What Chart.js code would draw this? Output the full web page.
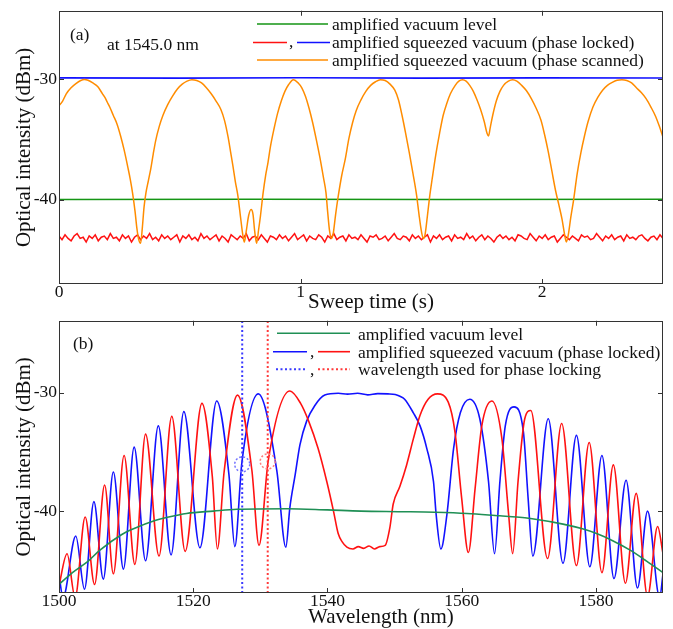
<!DOCTYPE html>
<html><head><meta charset="utf-8">
<script src="https://cdn.jsdelivr.net/npm/chart.js@4.4.1/dist/chart.umd.min.js"></script>
<style>
html,body{margin:0;padding:0;background:#fff;}
#wrap{position:relative;width:673px;height:629px;overflow:hidden;background:#fff;}
canvas{position:absolute;left:0;}
#ca{top:0;}
#cb{top:310px;}
</style></head><body>
<div id="wrap"><canvas id="ca" width="673" height="320"></canvas><canvas id="cb" width="673" height="319"></canvas></div>
<script>
// ---------- axis ticks ----------
const sweepTicks = [0, 0.5, 1, 1.5, 2, 2.5];
const sweepLabels = [0, 1, 2];
const wlTicks = [1500, 1510, 1520, 1530, 1540, 1550, 1560, 1570, 1580, 1590];
const wlLabels = [1500, 1520, 1540, 1560, 1580];
const dbmTicks = [-45, -40, -35, -30, -25];
const dbmLabels = [-40, -30];

// ---------- panel (a): sweep time (s) vs dBm ----------
const vacuumA = [[0, -39.97], [0.8, -39.95], [1.6, -39.97], [2.5, -39.95]];
const lockedHighA = [[0, -29.88], [0.5, -29.9], [1, -29.87], [1.5, -29.9], [2, -29.88], [2.5, -29.89]];
const lockedLowStep = 0.0125;
const lockedLowA = [
 -43.0,-43.3,-42.9,-43.2,-43.4,-43.0,-42.8,-43.2,-43.1,-43.5,
 -43.0,-43.2,-42.9,-43.4,-43.1,-43.0,-43.3,-42.8,-43.2,-43.1,
 -43.4,-42.9,-43.2,-43.0,-43.5,-43.1,-42.9,-43.3,-43.0,-43.2,
 -42.8,-43.3,-43.1,-43.4,-42.9,-43.2,-43.0,-43.3,-43.1,-42.9,
 -43.5,-43.0,-43.2,-42.9,-43.3,-43.1,-43.4,-42.8,-43.2,-43.0,
 -43.3,-43.1,-42.9,-43.4,-43.0,-43.2,-43.5,-42.9,-43.1,-43.3,
 -43.0,-43.2,-42.8,-43.4,-43.1,-43.0,-43.3,-42.9,-43.2,-43.5,
 -43.0,-43.1,-43.3,-42.9,-43.2,-43.0,-43.4,-43.1,-42.8,-43.3,
 -43.1,-42.9,-43.4,-43.0,-43.2,-43.3,-42.9,-43.1,-43.5,-43.0,
 -43.2,-42.8,-43.3,-43.1,-43.0,-43.4,-42.9,-43.2,-43.1,-43.3,
 -42.9,-43.2,-43.5,-43.0,-43.1,-42.9,-43.3,-43.2,-43.0,-43.4,
 -43.1,-42.8,-43.2,-43.3,-43.0,-43.1,-43.4,-42.9,-43.2,-43.0,
 -43.3,-43.1,-42.9,-43.5,-43.0,-43.2,-42.9,-43.3,-43.1,-43.0,
 -43.4,-42.9,-43.2,-43.1,-43.3,-42.8,-43.2,-43.0,-43.4,-43.1,
 -42.9,-43.3,-43.0,-43.2,-43.5,-43.1,-42.9,-43.2,-43.0,-43.3,
 -43.1,-43.4,-42.9,-43.0,-43.2,-43.3,-42.8,-43.1,-43.4,-43.0,
 -43.2,-42.9,-43.3,-43.1,-43.0,-43.5,-43.2,-42.9,-43.1,-43.3,
 -43.0,-43.2,-43.4,-42.9,-43.1,-43.0,-43.3,-43.2,-42.8,-43.1,
 -43.4,-43.0,-43.2,-42.9,-43.3,-43.1,-43.0,-43.4,-42.9,-43.2,
 -43.1,-43.3,-43.0,-42.9,-43.2,-43.4,-43.1,-43.0,-43.3,-42.9,
 -43.2];
const phaseScanned = [
 [0,-32.2],[0.015,-31.8],[0.03,-31.2],[0.05,-30.7],[0.07,-30.35],[0.09,-30.1],[0.105,-30.02],[0.12,-30.08],
 [0.14,-30.3],[0.16,-30.6],[0.18,-31.2],[0.19,-31.5],[0.2,-31.9],[0.21,-32.3],[0.225,-33.0],[0.24,-33.7],
 [0.255,-34.7],[0.27,-35.9],[0.285,-37.3],[0.295,-38.3],[0.305,-39.5],[0.315,-41.0],[0.322,-42.3],[0.33,-43.3],
 [0.338,-43.6],[0.345,-42.3],[0.352,-40.6],[0.36,-39.4],[0.37,-38.4],[0.38,-37.4],[0.39,-36.2],[0.4,-35.1],
 [0.415,-33.9],[0.43,-33.0],[0.45,-32.1],[0.47,-31.4],[0.49,-30.8],[0.51,-30.4],[0.53,-30.15],[0.55,-30.03],
 [0.57,-30.1],[0.59,-30.3],[0.61,-30.7],[0.63,-31.2],[0.65,-31.8],[0.67,-32.5],[0.685,-33.4],[0.7,-34.8],
 [0.71,-36.0],[0.72,-37.2],[0.73,-38.5],[0.74,-39.6],[0.75,-41.2],[0.76,-42.8],[0.767,-43.5],[0.775,-42.6],
 [0.785,-41.3],[0.795,-40.8],[0.803,-41.2],[0.81,-42.6],[0.818,-43.6],[0.826,-42.5],[0.834,-41.3],[0.845,-39.4],
 [0.855,-38.0],[0.865,-36.9],[0.875,-35.6],[0.89,-34.1],[0.905,-32.8],[0.92,-31.8],[0.935,-31.0],[0.95,-30.45],
 [0.97,-30.03],[0.99,-30.3],[1.005,-30.7],[1.02,-31.4],[1.035,-32.4],[1.05,-33.6],[1.065,-35.0],[1.08,-36.5],
 [1.095,-38.2],[1.105,-39.4],[1.112,-41.0],[1.12,-42.6],[1.128,-43.2],[1.135,-42.8],[1.145,-41.2],[1.155,-39.8],
 [1.17,-38.0],[1.185,-36.6],[1.2,-34.9],[1.215,-33.6],[1.23,-32.6],[1.25,-31.7],[1.27,-31.0],[1.29,-30.5],
 [1.31,-30.2],[1.33,-30.03],[1.35,-30.1],[1.37,-30.4],[1.39,-30.9],[1.405,-31.7],[1.42,-33.0],[1.435,-34.5],
 [1.45,-36.1],[1.465,-37.8],[1.48,-39.6],[1.49,-41.2],[1.5,-42.6],[1.508,-43.2],[1.515,-42.9],[1.525,-41.3],
 [1.535,-39.6],[1.545,-38.2],[1.56,-36.2],[1.575,-34.5],[1.59,-33.0],[1.605,-32.0],[1.62,-31.2],[1.64,-30.5],
 [1.655,-30.15],[1.67,-30.03],[1.685,-30.15],[1.7,-30.5],[1.715,-31.0],[1.73,-31.7],[1.745,-32.5],[1.76,-33.5],
 [1.772,-34.5],[1.778,-34.7],[1.785,-34.0],[1.795,-33.0],[1.81,-31.8],[1.825,-31.0],[1.84,-30.5],[1.86,-30.15],
 [1.878,-30.03],[1.895,-30.15],[1.915,-30.5],[1.935,-30.95],[1.955,-31.6],[1.975,-32.4],[1.995,-33.4],[2.01,-34.6],
 [2.025,-36.0],[2.04,-37.6],[2.055,-39.2],[2.07,-40.5],[2.082,-41.6],[2.092,-42.8],[2.1,-43.5],[2.108,-42.9],
 [2.118,-41.5],[2.13,-40.0],[2.145,-37.8],[2.16,-36.1],[2.175,-34.7],[2.19,-33.5],[2.21,-32.3],[2.23,-31.5],
 [2.25,-30.9],[2.27,-30.5],[2.29,-30.25],[2.31,-30.08],[2.33,-30.03],[2.35,-30.1],[2.37,-30.3],[2.39,-30.7],
 [2.41,-31.1],[2.43,-31.6],[2.45,-32.3],[2.47,-33.1],[2.485,-33.9],[2.5,-34.8]];

// ---------- panel (b): wavelength (nm) vs dBm ----------
const vacuumB = [[1500,-46.2],[1502,-45.2],[1504.4,-44.2],[1506.1,-43.3],[1509.3,-42.0],[1511.1,-41.5],[1514.3,-40.8],
 [1516,-40.55],[1519,-40.2],[1523,-40.0],[1526.5,-39.85],[1534,-39.8],[1540,-39.9],[1545,-40.0],[1551,-40.05],
 [1556,-40.1],[1560.8,-40.2],[1565.7,-40.4],[1568.2,-40.5],[1570.5,-40.65],[1575.1,-41.1],[1578,-41.5],
 [1580.1,-41.9],[1582.5,-42.5],[1585.1,-43.3],[1587.5,-44.2],[1590,-45.2]];
const lockedBlueB = [
 [1500.0,-45.4],[1500.6,-47.3],[1502.5,-42.1],[1503.8,-46.6],[1505.2,-39.2],[1506.6,-45.75],[1508.1,-36.7],
 [1509.6,-44.9],[1511.2,-34.6],[1512.9,-44.2],[1514.8,-32.8],[1516.7,-43.7],[1518.6,-31.6],[1521.0,-43.1],
 [1523.5,-30.7],[1525.31,-36.85],[1526.2,-43.0],[1527.25,-35.9],[1529.7,-30.1],[1532.45,-36.55],[1533.8,-43.05],
 [1534.4,-39.7],[1535.2,-36.9],[1535.9,-34.4],[1536.9,-32.4],[1538.1,-31.1],
 [1539.6,-30.2],[1541.6,-30.05],[1543,-30.12],[1544.5,-30.05],[1546,-30.18],[1547.5,-30.08],[1549,-30.1],
 [1550.1,-30.15],[1550.8,-30.3],[1551.5,-30.55],[1552.8,-31.7],[1553.8,-32.8],[1554.8,-34.7],[1555.8,-37.5],
 [1556.2,-40.3],[1556.9,-43.2],[1557.8,-40.3],[1558.8,-34.7],[1559.8,-31.7],[1561.2,-30.55],[1562.7,-32.2],
 [1564.0,-37.5],[1564.9,-43.6],[1565.7,-37.5],[1566.5,-32.8],[1567.8,-31.2],[1569.2,-33.3],[1569.9,-38.9],
 [1570.6,-43.8],[1572.9,-32.2],[1575.1,-44.4],[1577.1,-33.6],[1579.1,-44.7],[1580.9,-35.3],[1582.7,-45.7],
 [1584.5,-37.4],[1586.2,-46.5],[1587.7,-40.0],[1589.5,-47.3],[1590,-45.3]];
const lockedRedB = [
 [1500.0,-46.3],[1501.2,-43.6],[1502.4,-47.3],[1503.9,-40.5],[1505.3,-46.2],[1506.8,-37.8],[1508.1,-45.3],
 [1509.7,-35.3],[1511.3,-44.5],[1512.9,-33.5],[1514.9,-43.8],[1516.8,-32.0],[1518.8,-43.4],[1521.3,-30.9],
 [1522.84,-37.05],[1523.6,-43.2],[1524.6,-36.7],[1526.6,-30.2],[1528.74,-36.55],[1529.8,-42.9],[1531.18,-35.73],
 [1534.4,-29.86],
 [1536.0,-30.9],[1537.2,-32.4],[1538.6,-34.7],[1539.9,-37.5],[1540.9,-40.0],[1541.6,-41.9],[1542.2,-42.6],
 [1542.9,-43.05],[1543.8,-43.2],[1544.6,-43.0],[1545.4,-43.15],[1546.2,-42.95],[1547.0,-43.2],[1547.8,-43.0],
 [1548.6,-42.9],[1549.3,-41.4],[1549.8,-39.4],[1550.8,-37.9],[1551.8,-36.1],[1552.8,-33.9],[1553.8,-31.9],
 [1555.0,-30.55],[1556.4,-30.1],[1558.0,-30.8],[1559.0,-33.3],[1560.0,-38.9],[1561.0,-43.5],[1562.0,-38.1],
 [1563.0,-32.8],[1564.5,-30.7],[1566.0,-33.9],[1567.0,-40.3],[1567.6,-43.6],[1568.4,-37.5],[1569.4,-32.2],
 [1570.3,-31.5],[1572.8,-44.0],[1574.9,-32.6],[1577.1,-44.6],[1579.0,-34.2],[1580.9,-45.2],[1582.6,-36.1],
 [1584.4,-46.1],[1586.0,-38.5],[1587.7,-47.2],[1589.2,-41.3],[1590.0,-43.6]];
const lockWavelengths = [1527.3, 1531.1];   // blue, red
const lockPointsDbm = [-36.05, -35.8];

// ---------- styling ----------
const SERIF = "'Liberation Serif','Times New Roman',Times,serif";
const INK = '#111';
const C = { greenA:'#159515', greenB:'#1f8f55', blue:'#1212ff', red:'#ff1212', orange:'#ff8c00',
            blueDot:'#3a3aff', redDot:'#ff3a3a', blueRing:'#7373ff', redRing:'#ff7d7d' };
Chart.defaults.font.family = SERIF;

const pts = arr => arr.map(p => ({x: p[0], y: p[1]}));
const line = (data, color, extra) => Object.assign({data, borderColor: color, borderWidth: 1.6, pointRadius: 0,
  fill: false, tension: 0}, extra || {});

function yScale(min, max) {
  return {
    type: 'linear', min, max,
    afterBuildTicks(s) { s.ticks = dbmTicks.map(v => ({value: v})); },
    afterFit(s) { s.width = 59; },
    grid: {display: false, drawTicks: false}, border: {display: false},
    ticks: {padding: 2, color: INK, font: {family: SERIF, size: 17.5, lineHeight: 1},
      callback: v => dbmLabels.includes(v) ? String(v) : null},
    title: {display: true, text: 'Optical intensity (dBm)', color: INK,
      font: {family: SERIF, size: 21, lineHeight: 1.2}, padding: {top: 12, bottom: 0}}
  };
}
function xScale(min, max, tickVals, labelVals) {
  return {
    type: 'linear', min, max,
    afterBuildTicks(s) { s.ticks = tickVals.map(v => ({value: v})); },
    afterFit(s) { s.height = 36; },
    grid: {display: false, drawTicks: false}, border: {display: false},
    ticks: {padding: 0, autoSkip: false, maxRotation: 0, color: INK,
      font: {family: SERIF, size: 17.5, lineHeight: 1},
      callback: v => labelVals.includes(v) ? String(v) : null}
  };
}
function seg(ctx, x1, x2, y, color, dash) {
  ctx.save(); ctx.strokeStyle = color; ctx.lineWidth = dash ? 2 : 1.6;
  ctx.setLineDash(dash || []); ctx.beginPath(); ctx.moveTo(x1, y); ctx.lineTo(x2, y); ctx.stroke(); ctx.restore();
}
function txt(ctx, s, x, y, size) {
  ctx.save(); ctx.font = (size || 17.5) + 'px ' + SERIF; ctx.fillStyle = INK;
  ctx.textBaseline = 'middle'; ctx.textAlign = 'left'; ctx.fillText(s, x, y); ctx.restore();
}
function frameTicks(chart) {
  const ctx = chart.ctx, a = chart.chartArea, xs = chart.scales.x, ys = chart.scales.y;
  ctx.save(); ctx.strokeStyle = '#333'; ctx.lineWidth = 1; ctx.beginPath();
  xs.ticks.forEach(t => {
    const px = Math.round(xs.getPixelForValue(t.value)) + 0.5;
    if (px <= a.left + 1 || px >= a.right - 1) return;
    ctx.moveTo(px, a.bottom); ctx.lineTo(px, a.bottom - 5);
    ctx.moveTo(px, a.top); ctx.lineTo(px, a.top + 5);
  });
  ys.ticks.forEach(t => {
    const py = Math.round(ys.getPixelForValue(t.value)) + 0.5;
    ctx.moveTo(a.left, py); ctx.lineTo(a.left + 5, py);
    ctx.moveTo(a.right, py); ctx.lineTo(a.right - 5, py);
  });
  ctx.stroke();
  ctx.strokeRect(Math.round(a.left) + 0.5, Math.round(a.top) + 0.5, Math.round(a.right - a.left) - 1, Math.round(a.bottom - a.top) - 1);
  ctx.restore();
}

// ---------- chart (a) ----------
const yMinA = -46.98, yMaxA = -24.31;
new Chart(document.getElementById('ca'), {
  type: 'line',
  data: { datasets: [
    line(pts(phaseScanned), C.orange, {cubicInterpolationMode: 'monotone', borderWidth: 1.5}),
    line(pts(lockedHighA), C.blue),
    line(pts(vacuumA), C.greenA),
    line(lockedLowA.map((v, i) => ({x: i * lockedLowStep, y: v})), C.red, {borderWidth: 1.5})
  ]},
  options: {
    responsive: false, animation: false, devicePixelRatio: 1,
    layout: {padding: {top: 8, right: 10, left: 0, bottom: 0}},
    plugins: {legend: {display: false}, tooltip: {enabled: false}},
    scales: { x: xScale(0, 2.5, sweepTicks, sweepLabels), y: yScale(yMinA, yMaxA) }
  },
  plugins: [{ id: 'decoA', afterDatasetsDraw(chart) {
    const ctx = chart.ctx;
    frameTicks(chart);
    seg(ctx, 257, 328, 24, C.greenA); txt(ctx, 'amplified vacuum level', 332, 25);
    seg(ctx, 253, 287, 42.5, C.red); txt(ctx, ',', 289, 42); seg(ctx, 297, 330, 42.5, C.blue);
    txt(ctx, 'amplified squeezed vacuum (phase locked)', 332, 43);
    seg(ctx, 257, 328, 60, C.orange); txt(ctx, 'amplified squeezed vacuum (phase scanned)', 332, 61);
    txt(ctx, '(a)', 70, 35); txt(ctx, 'at 1545.0 nm', 107, 45);
    txt(ctx, 'Sweep time (s)', 308, 302, 21);
  }}]
});

// ---------- chart (b) ----------
const yMinB = -46.92, yMaxB = -23.92;
new Chart(document.getElementById('cb'), {
  type: 'line',
  data: { datasets: [
    line([{x: lockWavelengths[0], y: yMinB}, {x: lockWavelengths[0], y: yMaxB}], C.blueDot, {borderWidth: 2, borderDash: [2, 2.5]}),
    line([{x: lockWavelengths[1], y: yMinB}, {x: lockWavelengths[1], y: yMaxB}], C.redDot, {borderWidth: 2, borderDash: [2, 2.5]}),
    line(pts(vacuumB), C.greenB, {cubicInterpolationMode: 'monotone'}),
    line(pts(lockedRedB), C.red, {cubicInterpolationMode: 'monotone'}),
    line(pts(lockedBlueB), C.blue, {cubicInterpolationMode: 'monotone'})
  ]},
  options: {
    responsive: false, animation: false, devicePixelRatio: 1,
    layout: {padding: {top: 7, right: 10, left: 0, bottom: 0}},
    plugins: {legend: {display: false}, tooltip: {enabled: false}},
    scales: { x: xScale(1500, 1590, wlTicks, wlLabels), y: yScale(yMinB, yMaxB) }
  },
  plugins: [{ id: 'decoB', afterDatasetsDraw(chart) {
    const ctx = chart.ctx, xs = chart.scales.x, ys = chart.scales.y;
    frameTicks(chart);
    [C.blueRing, C.redRing].forEach((col, i) => {
      ctx.save(); ctx.strokeStyle = col; ctx.lineWidth = 1.5; ctx.setLineDash([2, 2]);
      ctx.beginPath();
      ctx.arc(xs.getPixelForValue(lockWavelengths[i]), ys.getPixelForValue(lockPointsDbm[i]), 7.5, 0, Math.PI * 2);
      ctx.stroke(); ctx.restore();
    });
    seg(ctx, 277, 350, 23.3, C.greenB); txt(ctx, 'amplified vacuum level', 358, 25);
    seg(ctx, 273, 307, 41.7, C.blue); txt(ctx, ',', 310, 42); seg(ctx, 318, 350, 41.7, C.red);
    txt(ctx, 'amplified squeezed vacuum (phase locked)', 358, 43);
    seg(ctx, 276, 307, 59.3, C.blueDot, [2, 2.5]); txt(ctx, ',', 310, 60); seg(ctx, 318, 350, 59.3, C.redDot, [2, 2.5]);
    txt(ctx, 'wavelength used for phase locking', 358, 60.7);
    txt(ctx, '(b)', 73, 34);
    txt(ctx, 'Wavelength (nm)', 308, 307, 21);
  }}]
});
</script>
</body></html>
